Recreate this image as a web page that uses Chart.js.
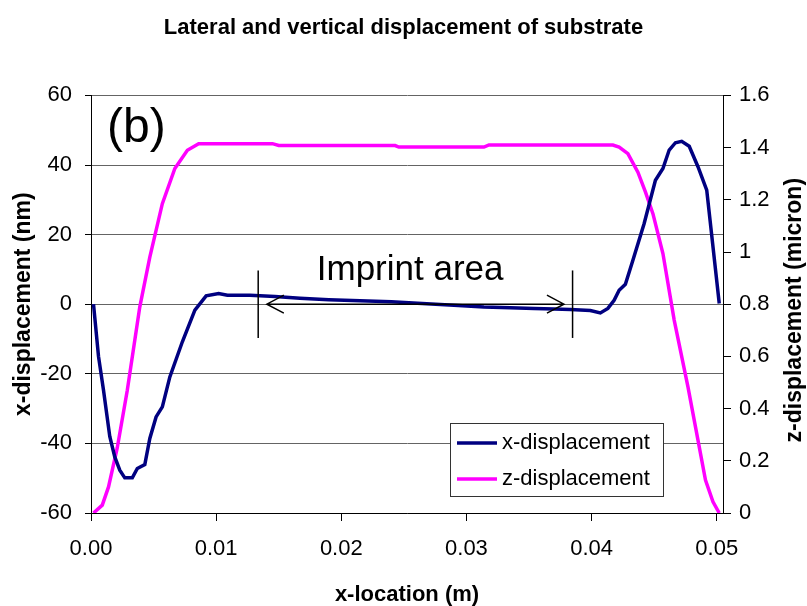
<!DOCTYPE html>
<html>
<head>
<meta charset="utf-8">
<script src="https://cdn.jsdelivr.net/npm/chart.js@4.4.0/dist/chart.umd.min.js"></script>
<style>
body { margin: 0; background: #fff; }
</style>
</head>
<body>
<canvas id="dispChart" width="807" height="606"></canvas>
<script>
// x-displacement (nm) vs x-location (m)
var xDispLoc = [0.0002, 0.0006, 0.0010, 0.0015, 0.0019, 0.0023, 0.0027, 0.0033, 0.0037, 0.0043,
    0.0047, 0.0052, 0.0057, 0.0063, 0.0073, 0.0083, 0.0092, 0.0102, 0.0109, 0.0127,
    0.0147, 0.0167, 0.0190, 0.0215, 0.0240, 0.0261, 0.0290, 0.0314, 0.0335, 0.0354,
    0.0370, 0.0383, 0.0399, 0.0407, 0.0413, 0.0418, 0.0422, 0.0427, 0.0433, 0.0442,
    0.0451, 0.0457, 0.0462, 0.0467, 0.0472, 0.0478, 0.0485, 0.0492, 0.0502];
var xDispVal = [0, -15, -24.7, -38, -43.9, -47.7, -49.9, -49.9, -47.2, -46.1,
    -38.6, -32.4, -29.5, -20.9, -10.8, -1.7, 2.4, 3.1, 2.6, 2.6,
    2.2, 1.7, 1.3, 1.0, 0.7, 0.3, -0.3, -0.8, -1.0, -1.2,
    -1.4, -1.5, -1.8, -2.5, -1.2, 1.1, 4, 5.7, 12.6, 23.2,
    35.6, 39, 44.3, 46.4, 46.8, 45.4, 39.5, 32.8, 0.2];

// z-displacement (micron) vs x-location (m)
var zDispLoc = [0.0002, 0.0009, 0.0014, 0.0021, 0.0029, 0.0039, 0.0047, 0.0057, 0.0067, 0.0077,
    0.0086, 0.0145, 0.0150, 0.0243, 0.0246, 0.0314, 0.0318, 0.0417, 0.0422, 0.0429,
    0.0437, 0.0443, 0.0449, 0.0457, 0.0466, 0.0477, 0.0485, 0.0491, 0.0497, 0.0502];
var zDispVal = [0, 0.03, 0.1, 0.25, 0.47, 0.79, 0.98, 1.185, 1.32, 1.39,
    1.415, 1.415, 1.408, 1.408, 1.402, 1.402, 1.41, 1.41, 1.402, 1.377,
    1.306, 1.23, 1.147, 0.994, 0.739, 0.483, 0.279, 0.126, 0.043, 0];

var xTicks = [0, 0.01, 0.02, 0.03, 0.04, 0.05];
var xTickLabels = ['0.00', '0.01', '0.02', '0.03', '0.04', '0.05'];
var yTicks = [-60, -40, -20, 0, 20, 40, 60];
var zTicks = [0, 0.2, 0.4, 0.6, 0.8, 1, 1.2, 1.4, 1.6];
var zTickLabels = ['0', '0.2', '0.4', '0.6', '0.8', '1', '1.2', '1.4', '1.6'];

// imprint area markers (data units)
var imprintEdges = [0.01336, 0.03848];
var imprintArrow = [0.01405, 0.03779];
var imprintMarkY = [9.7, -9.7];

var FONT = '"Liberation Sans", Arial, sans-serif';
Chart.defaults.font.family = FONT;
Chart.defaults.color = '#000';

var overlay = {
    id: 'overlay',
    afterDraw: function (chart) {
        var ctx = chart.ctx;
        var xs = chart.scales.x, ys = chart.scales.y, area = chart.chartArea;
        ctx.save();
        ctx.strokeStyle = '#000';
        ctx.fillStyle = '#000';

        // edges of imprint area
        ctx.lineWidth = 1.5;
        imprintEdges.forEach(function (v) {
            var px = xs.getPixelForValue(v);
            ctx.beginPath();
            ctx.moveTo(px, ys.getPixelForValue(imprintMarkY[0]));
            ctx.lineTo(px, ys.getPixelForValue(imprintMarkY[1]));
            ctx.stroke();
        });

        // double arrow
        var a = xs.getPixelForValue(imprintArrow[0]);
        var b = xs.getPixelForValue(imprintArrow[1]);
        var ay = ys.getPixelForValue(0);
        ctx.beginPath();
        ctx.moveTo(a, ay); ctx.lineTo(b, ay);
        ctx.moveTo(a + 17, ay - 9); ctx.lineTo(a, ay); ctx.lineTo(a + 17, ay + 9);
        ctx.moveTo(b - 17, ay - 9); ctx.lineTo(b, ay); ctx.lineTo(b - 17, ay + 9);
        ctx.stroke();

        ctx.font = '35px ' + FONT;
        ctx.textAlign = 'center';
        ctx.textBaseline = 'alphabetic';
        ctx.fillText('Imprint area', xs.getPixelForValue(0.0255), ys.getPixelForValue(7));

        ctx.font = '48px ' + FONT;
        ctx.textAlign = 'left';
        ctx.textBaseline = 'middle';
        ctx.fillText('(b)', area.left + 16, area.top + 33);

        // right axis title, reads bottom to top
        ctx.save();
        ctx.translate(chart.width - 12.5, (area.top + area.bottom) / 2 + 6);
        ctx.rotate(-Math.PI / 2);
        ctx.font = 'bold 23px ' + FONT;
        ctx.textAlign = 'center';
        ctx.textBaseline = 'middle';
        ctx.fillText('z-displacement (micron)', 0, 0);
        ctx.restore();

        // legend
        var lx = area.right - 273, ly = area.bottom - 90, lw = 213, lh = 73;
        ctx.fillStyle = '#fff';
        ctx.fillRect(lx, ly, lw, lh);
        ctx.strokeStyle = '#333';
        ctx.lineWidth = 1;
        ctx.strokeRect(lx + 0.5, ly + 0.5, lw, lh);
        ctx.font = '22px ' + FONT;
        ctx.textAlign = 'left';
        ctx.textBaseline = 'middle';
        chart.data.datasets.forEach(function (ds, i) {
            var ry = ly + 20 + i * 36;
            ctx.strokeStyle = ds.borderColor;
            ctx.lineWidth = 3.5;
            ctx.beginPath();
            ctx.moveTo(lx + 7, ry); ctx.lineTo(lx + 47, ry);
            ctx.stroke();
            ctx.fillStyle = '#000';
            ctx.fillText(ds.label, lx + 52, ry);
        });
        ctx.restore();
    }
};

var ctx = document.getElementById('dispChart').getContext('2d');
var dispChart = new Chart(ctx, {
    type: 'line',
    data: {
        datasets: [
            {
                label: 'x-displacement',
                data: xDispLoc.map(function (x, i) { return { x: x, y: xDispVal[i] }; }),
                borderColor: '#000080',
                borderWidth: 3.5,
                pointRadius: 0,
                tension: 0,
                fill: false,
                yAxisID: 'y'
            },
            {
                label: 'z-displacement',
                data: zDispLoc.map(function (x, i) { return { x: x, y: zDispVal[i] }; }),
                borderColor: '#FF00FF',
                borderWidth: 3.5,
                pointRadius: 0,
                tension: 0,
                fill: false,
                yAxisID: 'y1'
            }
        ]
    },
    options: {
        responsive: false,
        animation: false,
        layout: { padding: 0 },
        plugins: {
            legend: { display: false },
            tooltip: { enabled: false },
            title: {
                display: true,
                text: 'Lateral and vertical displacement of substrate',
                font: { size: 22, weight: 'bold' },
                color: '#000',
                padding: { top: 15, bottom: 54 }
            }
        },
        scales: {
            x: {
                type: 'linear',
                min: 0,
                max: 0.0505,
                afterBuildTicks: function (s) { s.ticks = xTicks.map(function (v) { return { value: v }; }); },
                afterFit: function (s) { s.height = 93; },
                ticks: {
                    callback: function (v, i) { return xTickLabels[i]; },
                    font: { size: 22 },
                    padding: 15,
                    maxRotation: 0,
                    autoSkip: false
                },
                grid: { drawOnChartArea: false, tickLength: 8, tickColor: '#000' },
                border: { color: '#000', width: 1 },
                title: {
                    display: true,
                    text: 'x-location (m)',
                    font: { size: 22, weight: 'bold', lineHeight: 1 },
                    padding: { top: 0, bottom: 0 }
                }
            },
            y: {
                position: 'left',
                min: -60,
                max: 60,
                afterBuildTicks: function (s) { s.ticks = yTicks.map(function (v) { return { value: v }; }); },
                afterFit: function (s) { s.width = 91; },
                ticks: {
                    callback: function (v) { return String(v); },
                    font: { size: 22 },
                    padding: 13
                },
                grid: { color: 'rgb(100,100,100)', lineWidth: 1, tickLength: 6, tickColor: '#000' },
                border: { color: '#000', width: 1 },
                title: {
                    display: true,
                    text: 'x-displacement (nm)',
                    font: { size: 23, weight: 'bold' },
                    padding: { top: 10, bottom: 0 }
                }
            },
            y1: {
                position: 'right',
                min: 0,
                max: 1.6,
                afterBuildTicks: function (s) { s.ticks = zTicks.map(function (v) { return { value: v }; }); },
                afterFit: function (s) { s.width = 84; },
                ticks: {
                    callback: function (v, i) { return zTickLabels[i]; },
                    font: { size: 22 },
                    padding: 8
                },
                grid: { drawOnChartArea: false, tickLength: 8, tickColor: '#000' },
                border: { color: '#000', width: 1 }
            }
        }
    },
    plugins: [overlay]
});
</script>
</body>
</html>
